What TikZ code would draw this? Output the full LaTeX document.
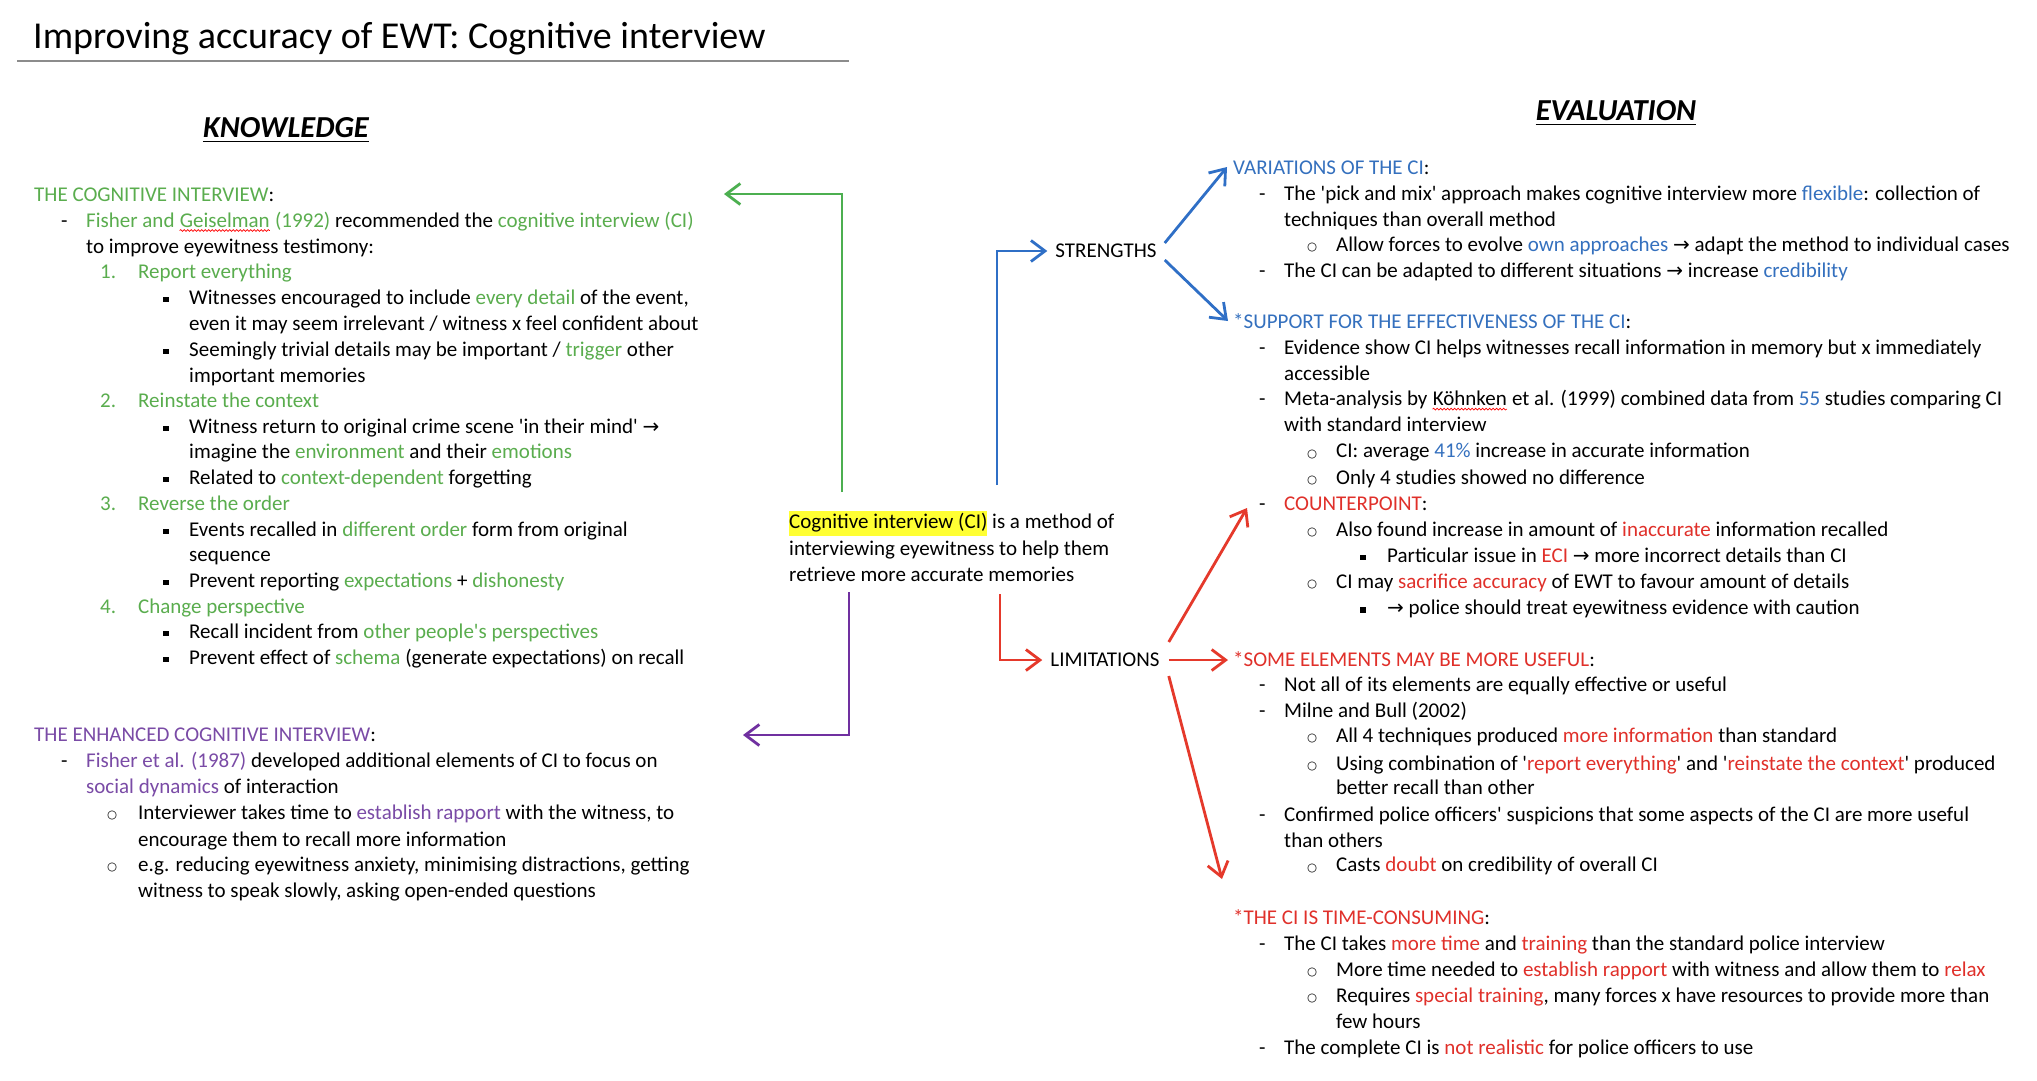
\documentclass[tikz,border=0pt]{standalone}
\usepackage{fontspec}
\setmainfont{Carlito}
\newfontfamily\djv{DejaVu Sans}
\usetikzlibrary{arrows.meta,decorations.pathmorphing}
\definecolor{kgreen}{HTML}{5AAD4E}
\definecolor{kgline}{HTML}{4CAF50}
\definecolor{kblue}{HTML}{3470BE}
\definecolor{kbline}{HTML}{2F6FC6}
\definecolor{kred}{HTML}{E0302A}
\definecolor{krline}{HTML}{E5392B}
\definecolor{kpurple}{HTML}{7A4BA6}
\definecolor{kpline}{HTML}{7030A0}
\definecolor{hl}{HTML}{FFFF33}
\newcommand\kG[1]{\textcolor{kgreen}{#1}}
\newcommand\kB[1]{\textcolor{kblue}{#1}}
\newcommand\kR[1]{\textcolor{kred}{#1}}
\newcommand\kP[1]{\textcolor{kpurple}{#1}}
\newcommand\qt{\textquotesingle}
\newcommand\rarr{{\djv\fontsize{20}{22}\selectfont →}}
\newcommand\spellw[3]{\tikz[baseline=(#1.base),x=1pt,y=1pt]{\node[inner sep=0pt, text=#2] (#1) {#3};
  \draw[red, line width=0.7pt, decorate, decoration={snake, amplitude=0.9pt, segment length=3.5pt}] ([yshift=-3.5pt]#1.base west) -- ([yshift=-3.5pt]#1.base east);}}
\newcommand\Mdash{\makebox[25pt][l]{-}}
\newcommand\Mnum[1]{\makebox[38pt][l]{#1}}
\newcommand\Msq[1][26pt]{\makebox[#1][l]{\rule[2pt]{5.5pt}{5.5pt}}}
\newcommand\Mcirc[1][29pt]{\makebox[#1][l]{\raisebox{0.8pt}{\djv\fontsize{11.5}{12}\selectfont ○}}}
\newcommand\Ln[4]{\node[txt] (#1) at (#2,{#3+6}) {#4};}
\tikzset{
  txt/.style={anchor=base west, inner sep=0pt, font=\fontsize{21}{25}\selectfont},
  lab/.style={inner sep=0pt, font=\fontsize{21}{25}\selectfont},
  head/.style={anchor=base, inner sep=0pt, font=\fontsize{30.5}{34}\selectfont\bfseries\itshape},
  arr/.style={line width=2.8pt, -{Straight Barb[length=14pt,width=21pt,line width=2.8pt]}},
}
\begin{document}
\begin{tikzpicture}[x=1pt,y=-1pt]
\useasboundingbox[fill=white] (0,0) rectangle (2037,1080);
% title
\node[anchor=base west, inner sep=0pt, font=\fontsize{38}{42}\selectfont] (title) at (33,48) {Improving accuracy of EWT: Cognitive interview};
\coordinate (tl1) at (17,61);
\coordinate (tl2) at (849,61);
\draw[black!45, line width=1.5pt] (tl1) -- (tl2);
% headers
\node[head] (know) at (286,137) {KNOWLEDGE};
\draw[line width=1.8pt] ([yshift=-4.5pt]know.base west) -- ([yshift=-4.5pt]know.base east);
\node[head] (eval) at (1616,120) {EVALUATION};
\draw[line width=1.8pt] ([yshift=-4.5pt]eval.base west) -- ([yshift=-4.5pt]eval.base east);
% left column
\Ln{L1}{34}{195}{\kG{THE COGNITIVE INTERVIEW}:}
\Ln{L2}{61}{221}{\Mdash\kG{Fisher and \spellw{sp1}{kgreen}{Geiselman} (1992)} recommended the \kG{cognitive interview (CI)}}
\Ln{L3}{86}{247}{to improve eyewitness testimony:}
\Ln{L4}{100}{272}{\kG{\Mnum{1.}Report everything}}
\Ln{L5}{163}{298}{\Msq Witnesses encouraged to include \kG{every detail} of the event,}
\Ln{L6}{189}{324}{even it may seem irrelevant / witness x feel confident about}
\Ln{L7}{163}{350}{\Msq Seemingly trivial details may be important / \kG{trigger} other}
\Ln{L8}{189}{376}{important memories}
\Ln{L9}{100}{401}{\kG{\Mnum{2.}Reinstate the context}}
\Ln{L10}{163}{427}{\Msq Witness return to original crime scene \qt in their mind\qt\ \rarr}
\Ln{L11}{189}{452}{imagine the \kG{environment} and their \kG{emotions}}
\Ln{L12}{163}{478}{\Msq Related to \kG{context-dependent} forgetting}
\Ln{L13}{100}{504}{\kG{\Mnum{3.}Reverse the order}}
\Ln{L14}{163}{530}{\Msq Events recalled in \kG{different order} form from original}
\Ln{L15}{189}{555}{sequence}
\Ln{L16}{163}{581}{\Msq Prevent reporting \kG{expectations} + \kG{dishonesty}}
\Ln{L17}{100}{607}{\kG{\Mnum{4.}Change perspective}}
\Ln{L18}{163}{632}{\Msq Recall incident from \kG{other people\qt s perspectives}}
\Ln{L19}{163}{658}{\Msq Prevent effect of \kG{schema} (generate expectations) on recall}
\Ln{L20}{34}{735}{\kP{THE ENHANCED COGNITIVE INTERVIEW}:}
\Ln{L21}{61}{761}{\Mdash\kP{Fisher et al. (1987)} developed additional elements of CI to focus on}
\Ln{L22}{86}{787}{\kP{social dynamics} of interaction}
\Ln{L23}{107}{813}{\Mcirc[31pt]Interviewer takes time to \kP{establish rapport} with the witness, to}
\Ln{L24}{138}{840}{encourage them to recall more information}
\Ln{L25}{107}{865}{\Mcirc[31pt]e.g. reducing eyewitness anxiety, minimising distractions, getting}
\Ln{L26}{138}{891}{witness to speak slowly, asking open-ended questions}
% centre
\Ln{c1}{789}{522}{{\setlength\fboxsep{0pt}\colorbox{hl}{\strut Cognitive interview (CI)}} is a method of}
\Ln{c2}{789}{549}{interviewing eyewitness to help them}
\Ln{c3}{789}{575}{retrieve more accurate memories}
\node[lab] (str) at (1106,251) {STRENGTHS};
\node[lab] (lim) at (1105,660) {LIMITATIONS};
% right column
\Ln{R1}{1233}{168.5}{\kB{VARIATIONS OF THE CI}:}
\Ln{R2}{1259}{194.6}{\Mdash The \qt pick and mix\qt\ approach makes cognitive interview more \kB{flexible}: collection of}
\Ln{R3}{1284}{220.7}{techniques than overall method}
\Ln{R4}{1307}{245.5}{\Mcirc Allow forces to evolve \kB{own approaches} \rarr\ adapt the method to individual cases}
\Ln{R5}{1259}{271.6}{\Mdash The CI can be adapted to different situations \rarr\ increase \kB{credibility}}
\Ln{R6}{1233}{322.6}{\kB{*SUPPORT FOR THE EFFECTIVENESS OF THE CI}:}
\Ln{R7}{1259}{348.7}{\Mdash Evidence show CI helps witnesses recall information in memory but x immediately}
\Ln{R8}{1284}{374.8}{accessible}
\Ln{R9}{1259}{399.6}{\Mdash Meta-analysis by \spellw{sp2}{black}{Köhnken} et al. (1999) combined data from \kB{55} studies comparing CI}
\Ln{R10}{1284}{425.8}{with standard interview}
\Ln{R11}{1307}{451.9}{\Mcirc CI: average \kB{41\%} increase in accurate information}
\Ln{R12}{1307}{478}{\Mcirc Only 4 studies showed no difference}
\Ln{R13}{1259}{504}{\Mdash\kR{COUNTERPOINT}:}
\Ln{R14}{1307}{530}{\Mcirc Also found increase in amount of \kR{inaccurate} information recalled}
\Ln{R15}{1360}{556}{\Msq[27pt]Particular issue in \kR{ECI} \rarr\ more incorrect details than CI}
\Ln{R16}{1307}{582.5}{\Mcirc CI may \kR{sacrifice accuracy} of EWT to favour amount of details}
\Ln{R17}{1360}{608.6}{\Msq[27pt]\rarr\ police should treat eyewitness evidence with caution}
\Ln{R18}{1233}{660.8}{\kR{*SOME ELEMENTS MAY BE MORE USEFUL}:}
\Ln{R19}{1259}{685.7}{\Mdash Not all of its elements are equally effective or useful}
\Ln{R20}{1259}{711.8}{\Mdash Milne and Bull (2002)}
\Ln{R21}{1307}{736.6}{\Mcirc All 4 techniques produced \kR{more information} than standard}
\Ln{R22}{1307}{764}{\Mcirc Using combination of \qt\kR{report everything}\qt\ and \qt\kR{reinstate the context}\qt\ produced}
\Ln{R23}{1336}{788.8}{better recall than other}
\Ln{R24}{1259}{815}{\Mdash Confirmed police officers\qt\ suspicions that some aspects of the CI are more useful}
\Ln{R25}{1284}{841}{than others}
\Ln{R26}{1307}{865.9}{\Mcirc Casts \kR{doubt} on credibility of overall CI}
\Ln{R27}{1233}{918}{\kR{*THE CI IS TIME-CONSUMING}:}
\Ln{R28}{1259}{944}{\Mdash The CI takes \kR{more time} and \kR{training} than the standard police interview}
\Ln{R29}{1307}{970}{\Mcirc More time needed to \kR{establish rapport} with witness and allow them to \kR{relax}}
\Ln{R30}{1307}{996.5}{\Mcirc Requires \kR{special training}, many forces x have resources to provide more than}
\Ln{R31}{1336}{1022.6}{few hours}
\Ln{R32}{1259}{1048.7}{\Mdash The complete CI is \kR{not realistic} for police officers to use}
% connectors
\coordinate (gS) at (842,492);
\coordinate (gE) at (724,194);
\draw[arr, kgline] (gS) |- (gE);
\coordinate (pS) at (849,592);
\coordinate (pE) at (743,735);
\draw[arr, kpline] (pS) |- (pE);
\coordinate (bS) at (997,485);
\draw[arr, kbline] (bS) |- ([xshift=-8pt]str.west);
\coordinate (rS) at (1000,594);
\draw[arr, krline] (rS) |- ([xshift=-8pt]lim.west);
\coordinate (vE) at (1227,167);
\coordinate (sE) at (1228,321);
\draw[arr, kbline] ([shift={(8,-8)}]str.east) -- (vE);
\draw[arr, kbline] ([shift={(8,9)}]str.east) -- (sE);
\coordinate (cE) at (1247,508);
\coordinate (eE) at (1228,660);
\coordinate (tE) at (1222,879);
\draw[arr, krline] ([shift={(9,-18)}]lim.east) -- (cE);
\draw[arr, krline] ([xshift=9pt]lim.east) -- (eE);
\draw[arr, krline] ([shift={(9,16)}]lim.east) -- (tE);
\end{tikzpicture}
\end{document}
